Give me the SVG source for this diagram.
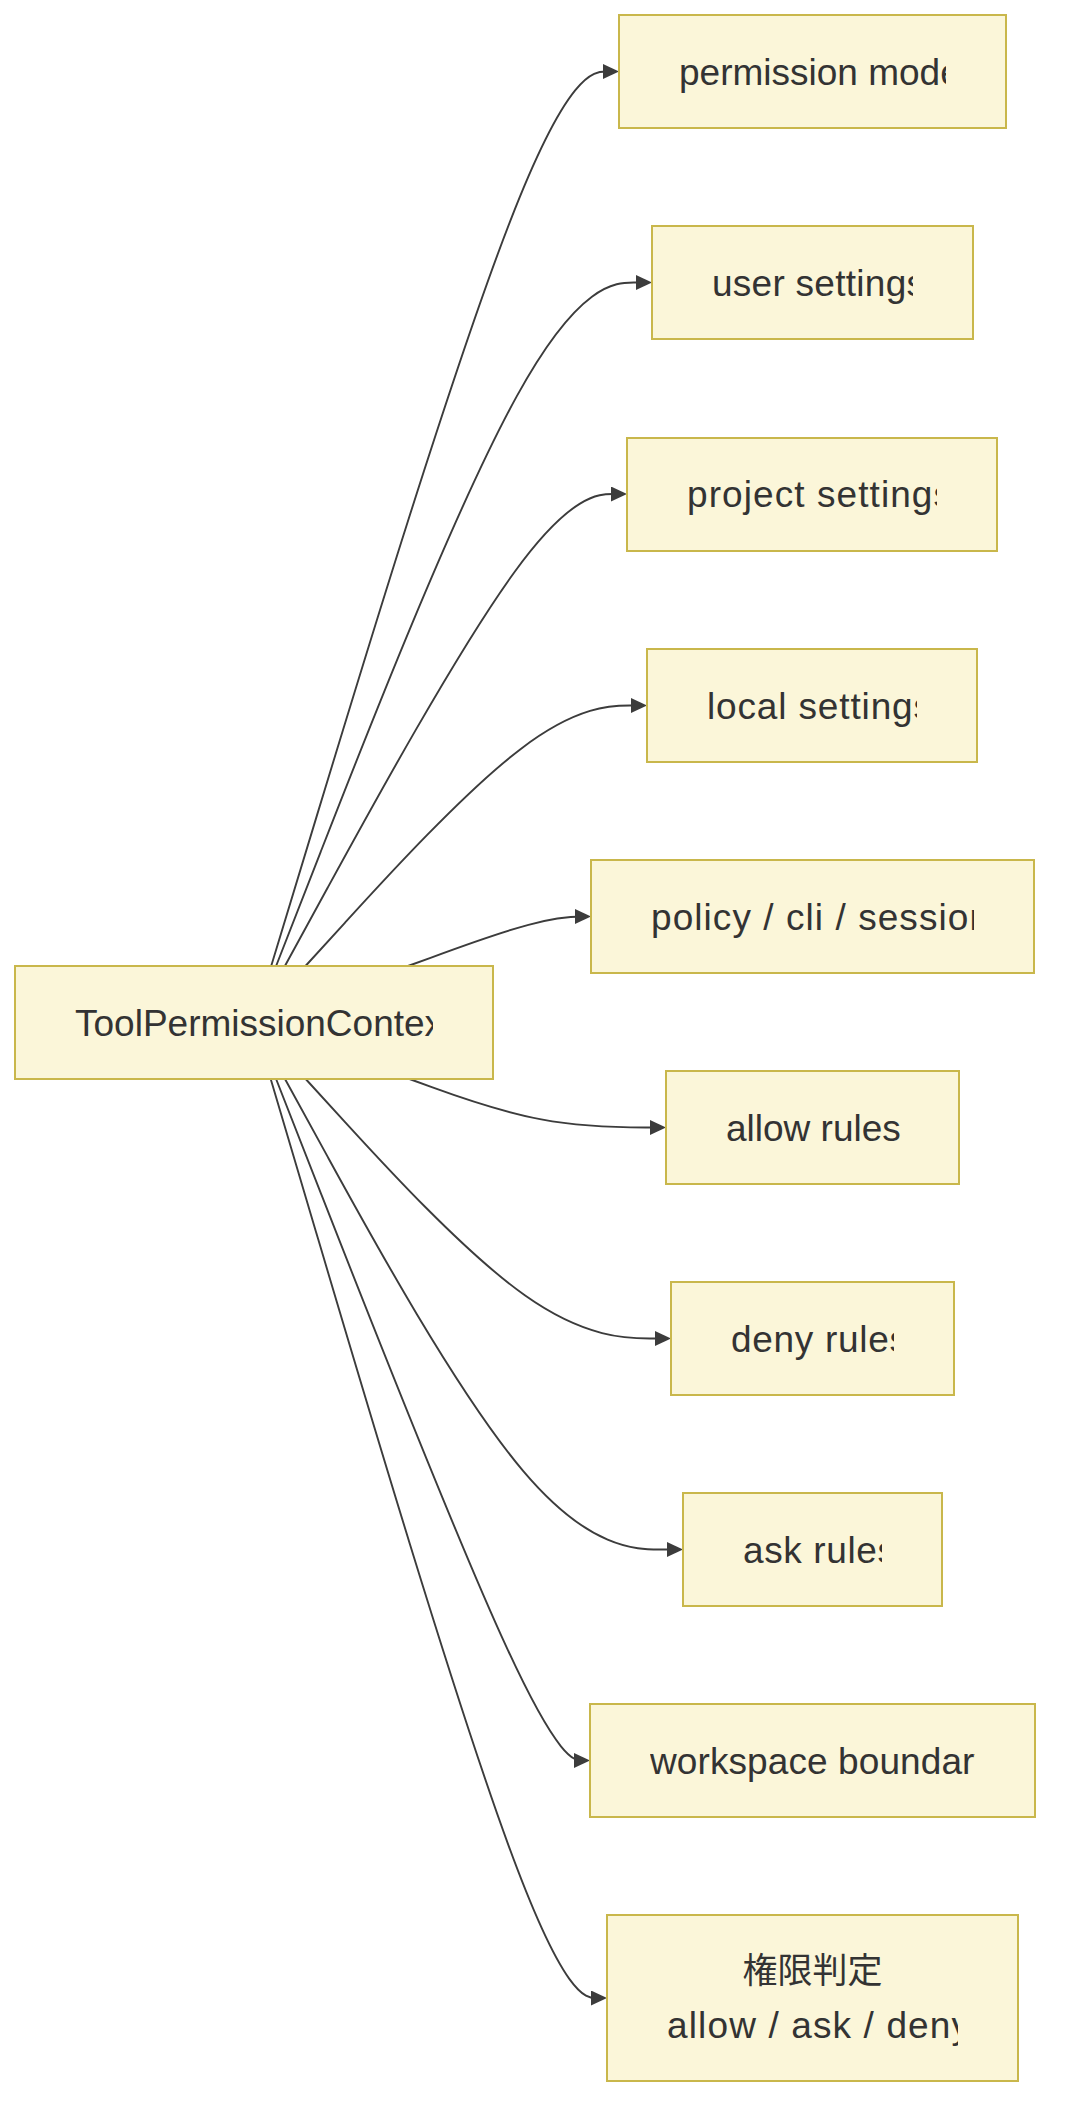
<svg xmlns="http://www.w3.org/2000/svg" width="1066" height="2126" viewBox="0 0 1066 2126">
  <style>
    .node rect.box { fill: #fbf6d9; stroke: #c9b74b; stroke-width: 2; }
    .node text { font-family: "Liberation Sans", "Noto Sans CJK JP", sans-serif; font-size: 37px; fill: #333333; }
    .node text.cjk { font-size: 35px; }
    .edge { fill: none; stroke: #3c3c3c; stroke-width: 1.9; marker-end: url(#arrow); }
  </style>
  <defs>
    <marker id="arrow" viewBox="0 0 16 15" refX="10" refY="7.5" markerUnits="userSpaceOnUse" markerWidth="16" markerHeight="15" orient="auto">
      <path d="M0,0 L16,7.5 L0,15 z" fill="#3c3c3c"/>
    </marker>
    <clipPath id="c-main"><rect x="75" y="966" width="358" height="113"/></clipPath>
    <clipPath id="c1"><rect x="679" y="15" width="267" height="113"/></clipPath>
    <clipPath id="c2"><rect x="712" y="226" width="201" height="113"/></clipPath>
    <clipPath id="c3"><rect x="687" y="438" width="250" height="113"/></clipPath>
    <clipPath id="c4"><rect x="707" y="649" width="210" height="113"/></clipPath>
    <clipPath id="c5"><rect x="651" y="860" width="323" height="113"/></clipPath>
    <clipPath id="c6"><rect x="726" y="1071" width="178" height="113"/></clipPath>
    <clipPath id="c7"><rect x="731" y="1282" width="163" height="113"/></clipPath>
    <clipPath id="c8"><rect x="743" y="1493" width="139" height="113"/></clipPath>
    <clipPath id="c9"><rect x="650" y="1704" width="325" height="113"/></clipPath>
    <clipPath id="c10"><rect x="667" y="1915" width="291" height="166"/></clipPath>
  </defs>
  <rect x="0" y="0" width="1066" height="2126" fill="#ffffff"/>

  <g id="edges">
    <path class="edge" d="M271.2,966 L316.5,816.9 C361.8,667.8 452.4,369.7 510.4,220.6 C568.3,71.5 593.7,71.5 606.3,71.5 L613,71.5"/>
    <path class="edge" d="M276.1,966 L320.6,852.1 C365.1,738.2 454,510.3 516.7,396.4 C579.3,282.5 615.7,282.5 633.8,282.5 L646,282.5"/>
    <path class="edge" d="M284.9,966 L327.9,887.3 C370.9,808.7 457,651.3 514,572.7 C571,494 599,494 613,494 L621,494"/>
    <path class="edge" d="M305.5,966 L345.1,922.6 C384.7,879.2 463.8,792.3 520.8,748.9 C577.7,705.5 612.3,705.5 629.7,705.5 L641,705.5"/>
    <path class="edge" d="M408,966 L430.5,957.8 C453,949.5 498,933 528.5,924.8 C559,916.5 575,916.5 583,916.5 L585,916.5"/>
    <path class="edge" d="M409.5,1079 L431.8,1087.1 C454,1095.2 498.5,1111.3 541.3,1119.4 C584,1127.5 625,1127.5 645.5,1127.5 L660,1127.5"/>
    <path class="edge" d="M305.7,1079 L345.3,1122.3 C384.8,1165.5 463.9,1252 524.8,1295.3 C585.7,1338.5 628.3,1338.5 649.7,1338.5 L665,1338.5"/>
    <path class="edge" d="M285,1079 L328,1157.4 C371,1235.8 457,1392.7 523.3,1471.1 C589.7,1549.5 636.3,1549.5 659.7,1549.5 L677,1549.5"/>
    <path class="edge" d="M276.1,1079 L320.6,1192.6 C365.1,1306.2 454,1533.3 506.4,1646.9 C558.7,1760.5 574.3,1760.5 582.2,1760.5 L584,1760.5"/>
    <path class="edge" d="M270.7,1079 L316.1,1232.2 C361.5,1385.3 452.2,1691.7 508.3,1844.8 C564.3,1998 585.7,1998 596.3,1998 L601,1998"/>
  </g>

  <g id="node-context" class="node">
    <rect class="box" x="15" y="966" width="478" height="113"/>
    <text x="75" y="1035.5" clip-path="url(#c-main)">ToolPermissionContext</text>
  </g>
  <g id="node-permission-mode" class="node">
    <rect class="box" x="619" y="15" width="387" height="113"/>
    <text x="679" y="84.5" clip-path="url(#c1)">permission mode</text>
  </g>
  <g id="node-user-settings" class="node">
    <rect class="box" x="652" y="226" width="321" height="113"/>
    <text x="712" y="295.5" clip-path="url(#c2)" textLength="213" lengthAdjust="spacing">user settings</text>
  </g>
  <g id="node-project-settings" class="node">
    <rect class="box" x="627" y="438" width="370" height="113"/>
    <text x="687" y="507" clip-path="url(#c3)" textLength="265" lengthAdjust="spacing">project settings</text>
  </g>
  <g id="node-local-settings" class="node">
    <rect class="box" x="647" y="649" width="330" height="113"/>
    <text x="707" y="718.5" clip-path="url(#c4)" textLength="225" lengthAdjust="spacing">local settings</text>
  </g>
  <g id="node-policy" class="node">
    <rect class="box" x="591" y="860" width="443" height="113"/>
    <text x="651" y="929.5" clip-path="url(#c5)" textLength="339" lengthAdjust="spacing">policy / cli / session</text>
  </g>
  <g id="node-allow-rules" class="node">
    <rect class="box" x="666" y="1071" width="293" height="113"/>
    <text x="726" y="1140.5" clip-path="url(#c6)">allow rules</text>
  </g>
  <g id="node-deny-rules" class="node">
    <rect class="box" x="671" y="1282" width="283" height="113"/>
    <text x="731" y="1351.5" clip-path="url(#c7)" textLength="177" lengthAdjust="spacing">deny rules</text>
  </g>
  <g id="node-ask-rules" class="node">
    <rect class="box" x="683" y="1493" width="259" height="113"/>
    <text x="743" y="1562.5" clip-path="url(#c8)" textLength="153" lengthAdjust="spacing">ask rules</text>
  </g>
  <g id="node-workspace-boundary" class="node">
    <rect class="box" x="590" y="1704" width="445" height="113"/>
    <text x="650" y="1773.5" clip-path="url(#c9)" textLength="343" lengthAdjust="spacing">workspace boundary</text>
  </g>
  <g id="node-decision" class="node">
    <rect class="box" x="607" y="1915" width="411" height="166"/>
    <text class="cjk" x="812.5" y="1983" text-anchor="middle">権限判定</text>
    <text x="667" y="2038" clip-path="url(#c10)" textLength="303" lengthAdjust="spacing">allow / ask / deny</text>
  </g>
</svg>
